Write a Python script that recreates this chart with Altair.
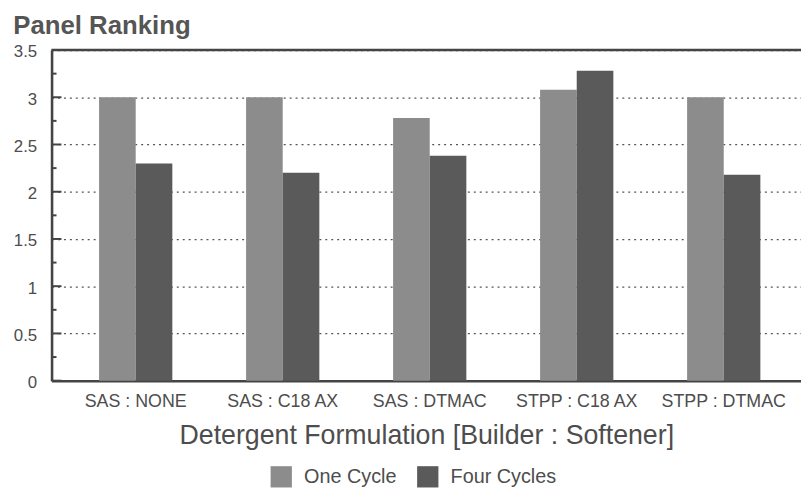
import altair as alt
import pandas as pd

categories = ["SAS : NONE", "SAS : C18 AX", "SAS : DTMAC", "STPP : C18 AX", "STPP : DTMAC"]
series = ["One Cycle", "Four Cycles"]
one_cycle = [3.0, 3.0, 2.78, 3.08, 3.0]
four_cycles = [2.3, 2.2, 2.38, 3.28, 2.18]
y_ticks = [0, 0.5, 1, 1.5, 2, 2.5, 3, 3.5]
y_minor = [0.25, 0.75, 1.25, 1.75, 2.25, 2.75, 3.25]

rows = []
for c, a, b in zip(categories, one_cycle, four_cycles):
    rows.append({"cat": c, "series": series[0], "value": a})
    rows.append({"cat": c, "series": series[1], "value": b})
df = pd.DataFrame(rows)

W, H = 757, 334
font = "Liberation Sans"
txt = "#4d4d4d"
yscale = alt.Scale(domain=[0, 3.5], nice=False, zero=True)

bars = alt.Chart(df).mark_bar().encode(
    x=alt.X("cat:N", sort=categories,
            scale=alt.Scale(paddingInner=0.5017, paddingOuter=0.2998, align=0.539),
            axis=alt.Axis(title="Detergent Formulation [Builder : Softener]", labelAngle=0,
                          ticks=False, domainWidth=2.6, domainColor="#444",
                          labelFontSize=18, labelColor=txt, labelPadding=12, labelFont=font,
                          titleFontSize=27, titleFontWeight="normal", titleColor=txt,
                          titlePadding=12, titleFont=font)),
    xOffset=alt.XOffset("series:N", sort=series, scale=alt.Scale(paddingInner=0, paddingOuter=0)),
    y=alt.Y("value:Q", scale=yscale,
            axis=alt.Axis(title=None, values=y_ticks, format=".1~f", ticks=False, grid=True,
                          gridDash=[2, 4], gridColor="#555", gridWidth=1.3,
                          domainWidth=2.6, domainColor="#444", labelOffset=2,
                          labelFontSize=17, labelColor=txt, labelPadding=15, labelFont=font)),
    color=alt.Color("series:N", sort=series,
                    scale=alt.Scale(domain=series, range=["#8c8c8c", "#5a5a5a"]),
                    legend=alt.Legend(title=None, orient="none", legendX=221, legendY=420,
                                      direction="horizontal", symbolType="square", symbolSize=462,
                                      labelFontSize=20, labelColor=txt, labelFont=font,
                                      labelOffset=12, symbolStrokeWidth=0, columnPadding=20,
                                      symbolOpacity=1)),
)

major = alt.Chart(pd.DataFrame({"value": y_ticks})).mark_rule(color="#444", strokeWidth=2).encode(
    y=alt.Y("value:Q", scale=yscale), x=alt.value(0), x2=alt.value(10))
minor = alt.Chart(pd.DataFrame({"value": y_minor})).mark_rule(color="#444", strokeWidth=2).encode(
    y=alt.Y("value:Q", scale=yscale), x=alt.value(0), x2=alt.value(5))
frame = alt.Chart(pd.DataFrame({"value": [3.5]})).mark_rule(color="#444", strokeWidth=2.6).encode(
    y=alt.Y("value:Q", scale=yscale), x=alt.value(0), x2=alt.value(W))

chart = alt.layer(bars, major, minor, frame).properties(
    width=W, height=H,
    padding={"left": 44, "top": 40, "right": 0, "bottom": 109},
    autosize=alt.AutoSizeParams(type="none"),
    title=alt.TitleParams("Panel Ranking", anchor="start", fontSize=26, font=font,
                          fontWeight="bold", color="#555", dx=0, offset=4),
).configure_view(stroke=None)

chart.save("out.html", embed_options={"renderer": "svg", "actions": False})
